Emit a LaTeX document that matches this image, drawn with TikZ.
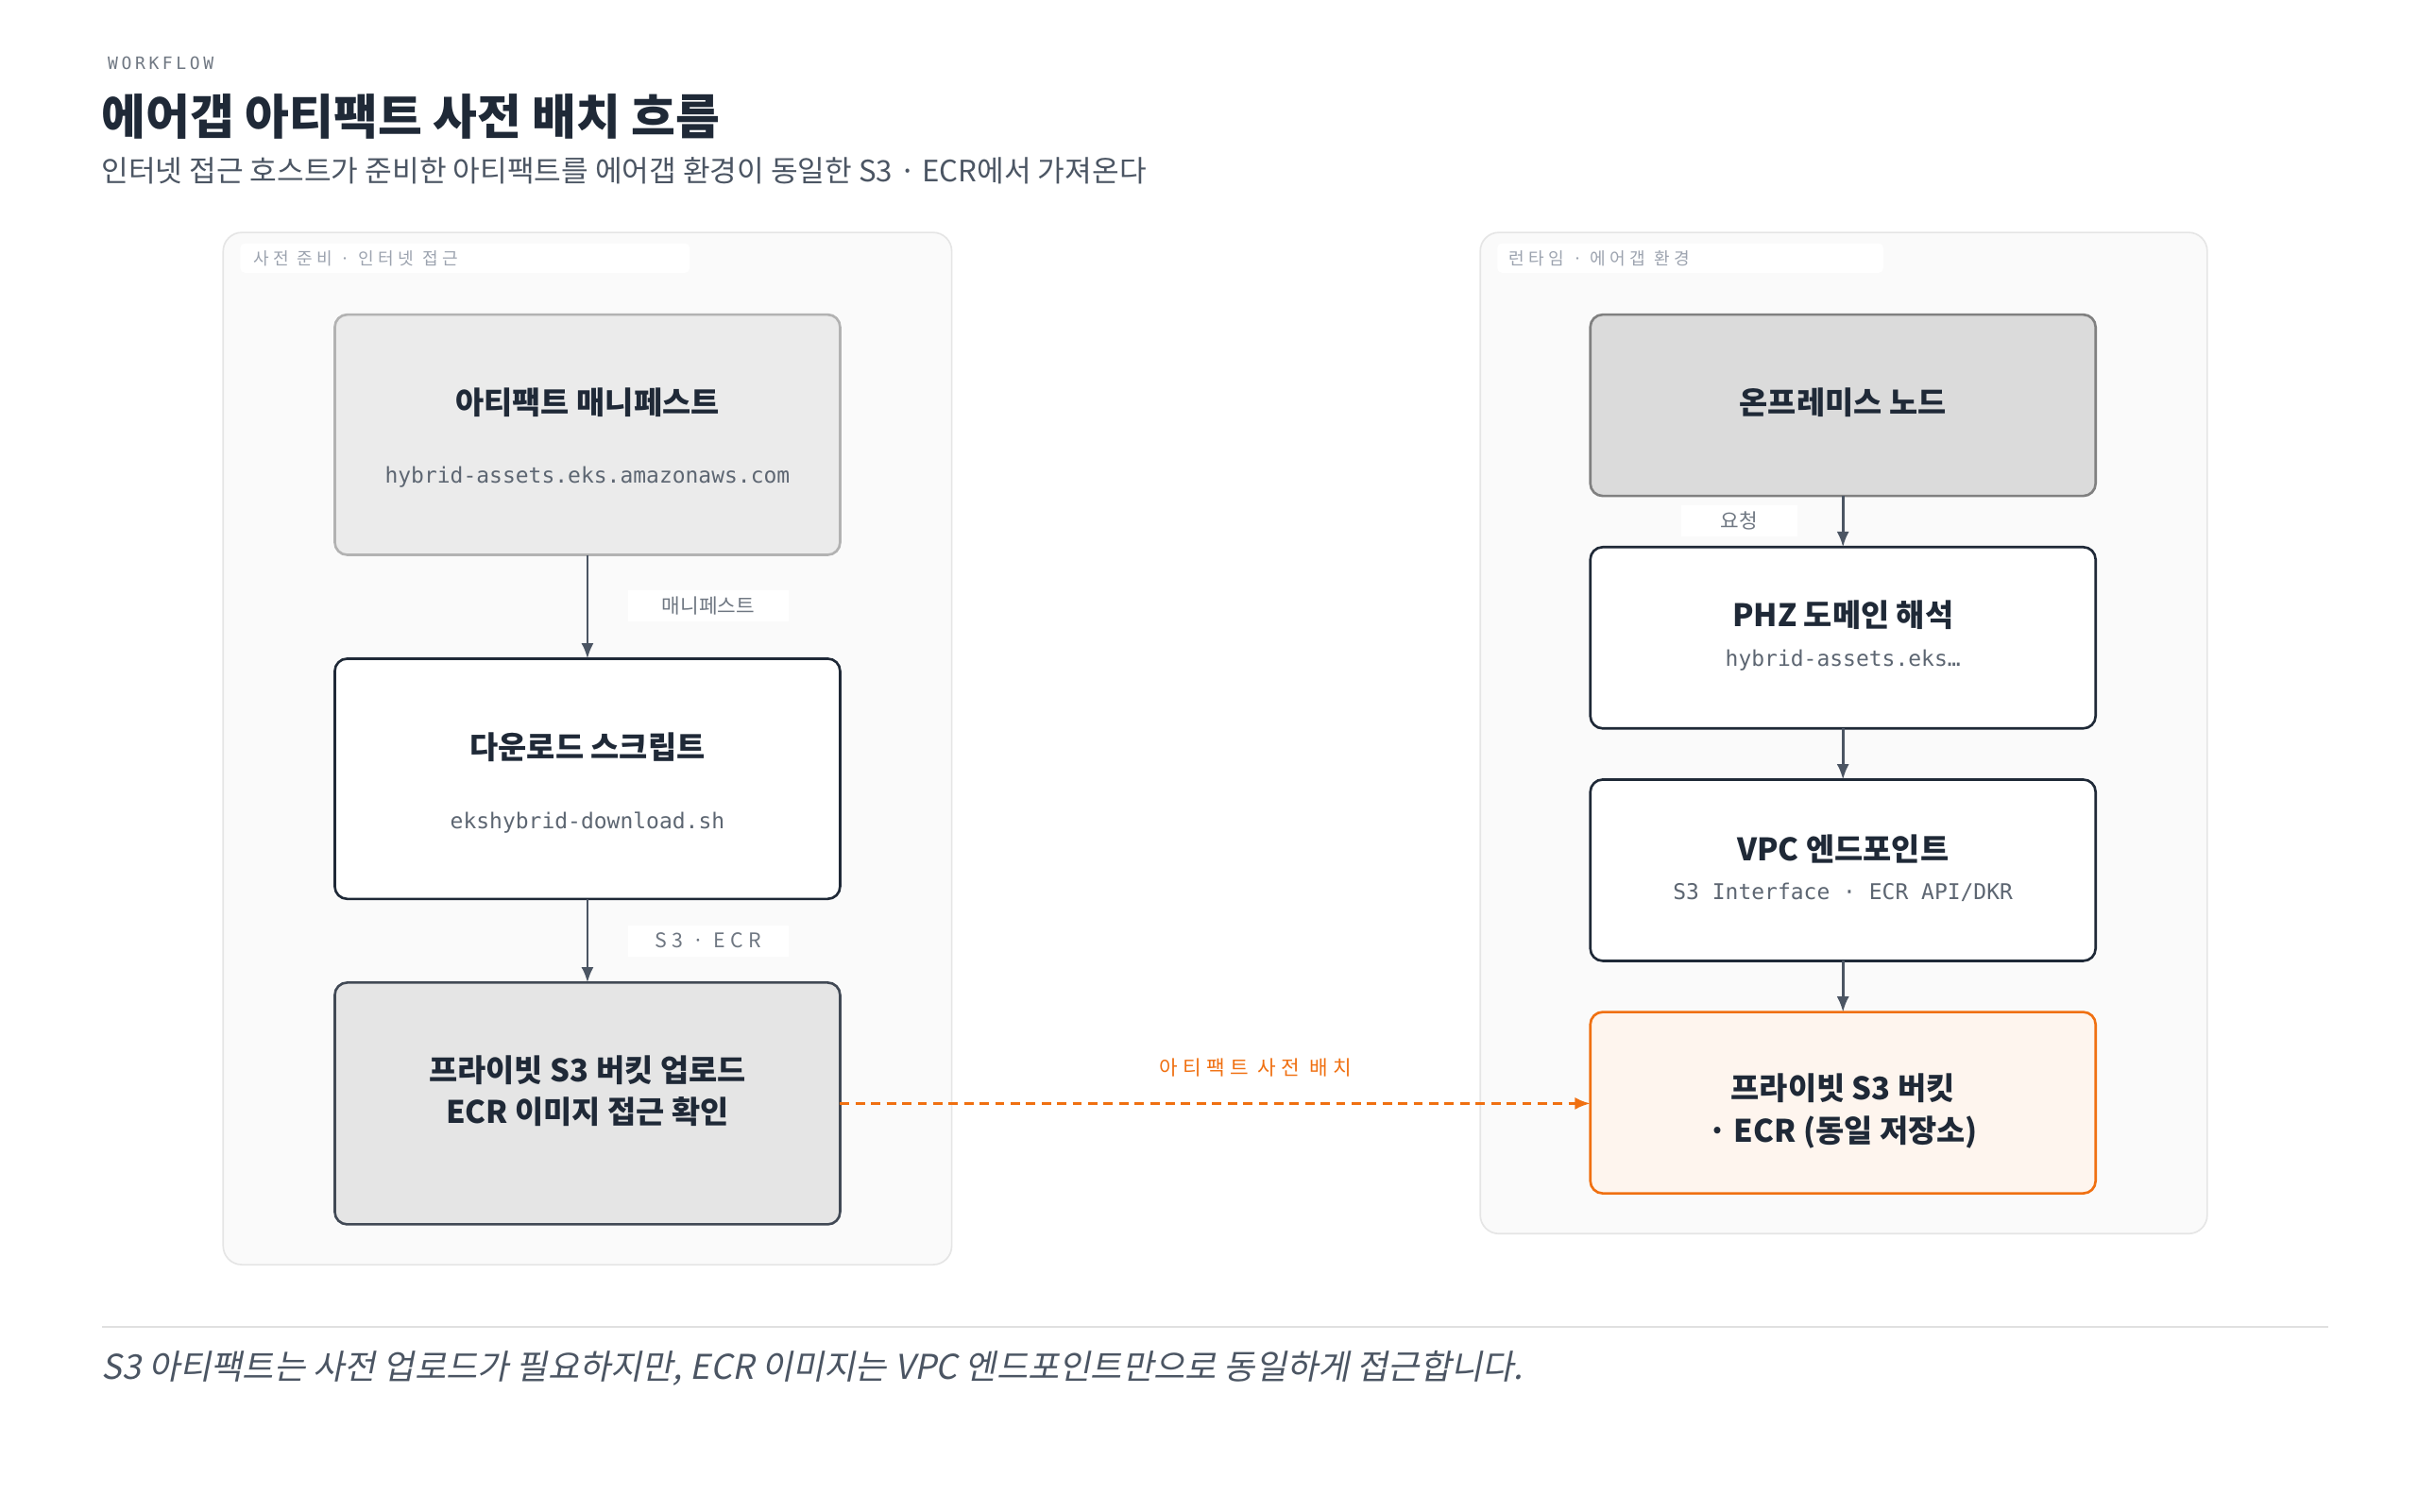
\documentclass[tikz,border=0pt]{standalone}
\usepackage{fontspec}
\setmainfont{Noto Sans CJK KR}
\setmonofont{DejaVu Sans Mono}
\newfontfamily\kmono{Noto Sans CJK KR}[LetterSpace=25]
\newfontfamily\kit{Noto Sans CJK KR}[FakeSlant=0.2]
\newfontfamily\mwide{DejaVu Sans Mono}[LetterSpace=20]
\usetikzlibrary{arrows.meta}
\definecolor{ink}{HTML}{1F2937}
\definecolor{sub}{HTML}{4B5563}
\definecolor{mut}{HTML}{9CA3AF}
\definecolor{orng}{HTML}{F07011}
\begin{document}
\begin{tikzpicture}[x=1pt,y=-1pt,
  panel/.style={draw=black!10,fill=black!2,rounded corners=12pt,line width=1pt},
  tag/.style={fill=white,rounded corners=3pt},
  box/.style={rounded corners=8pt,line width=1.6pt},
  ttl/.style={font=\fontsize{20}{26}\selectfont\bfseries,text=ink,align=center},
  mono/.style={font=\ttfamily\fontsize{14}{17}\selectfont,text=sub!90},
  tagt/.style={font=\kmono\fontsize{11}{13}\selectfont,text=mut,anchor=west},
  lbl/.style={font=\fontsize{13}{15}\selectfont,text=sub!80,fill=white,minimum width=104pt,minimum height=20pt},
  arr/.style={-{Latex[length=10pt,width=8pt]},line width=1.6pt,draw=sub}
]
\useasboundingbox[fill=white] (0,0) rectangle (1560,975);
\node[anchor=west,font=\mwide\fontsize{11}{13}\selectfont,text=sub!80] (wf) at (66,41) {WORKFLOW};
\node[anchor=west,font=\fontsize{31}{36}\selectfont\bfseries,text=ink] (title) at (62,75) {에어갭 아티팩트 사전 배치 흐름};
\node[anchor=west,font=\fontsize{19}{22}\selectfont,text=sub] (subt) at (62,110) {인터넷 접근 호스트가 준비한 아티팩트를 에어갭 환경이 동일한 S3 · ECR에서 가져온다};

\draw[panel] (144,150) rectangle (614,816);
\fill[tag] (155,157) rectangle (445,176);
\node[tagt] (lt) at (160,167) {사전 준비 · 인터넷 접근};
\draw[panel] (955,150) rectangle (1424,796);
\fill[tag] (966,157) rectangle (1215,176);
\node[tagt] (rt) at (970,167) {런타임 · 에어갭 환경};

% left boxes
\draw[box,fill=black!8,draw=black!30] (216,203) rectangle (542,358);
\coordinate (b1) at (379,280);
\node[ttl] (b1t) at (379,260) {아티팩트 매니페스트};
\node[mono] (b1m) at (379,308) {hybrid-assets.eks.amazonaws.com};
\draw[box,fill=white,draw=ink] (216,425) rectangle (542,580);
\node[ttl] (b2t) at (379,482) {다운로드 스크립트};
\node[mono] (b2m) at (379,531) {ekshybrid-download.sh};
\draw[box,fill=black!10,draw=ink!85] (216,634) rectangle (542,790);
\node[ttl,font=\fontsize{20}{27}\selectfont\bfseries] (b3t) at (379,704) {프라이빗 S3 버킷 업로드\\ECR 이미지 접근 확인};
\coordinate (b1s) at (379,358); \coordinate (b2n) at (379,425);
\coordinate (b2s) at (379,580); \coordinate (b3n) at (379,634);
\draw[arr] (b1s) -- (b2n);
\draw[arr] (b2s) -- (b3n);
\node[lbl] (l1) at (457,391) {매니페스트};
\node[lbl,font=\kmono\fontsize{13}{15}\selectfont] (l2) at (457,607) {S3 · ECR};

% right boxes
\draw[box,fill=black!14,draw=black!50] (1026,203) rectangle (1352,320);
\node[ttl] (r1t) at (1189,260) {온프레미스 노드};
\draw[box,fill=white,draw=ink] (1026,353) rectangle (1352,470);
\node[ttl] (r2t) at (1189,397) {PHZ 도메인 해석};
\node[mono] (r2m) at (1189,426) {hybrid-assets.eks…};
\draw[box,fill=white,draw=ink] (1026,503) rectangle (1352,620);
\node[ttl] (r3t) at (1189,548) {VPC 엔드포인트};
\node[mono] (r3m) at (1189,576) {S3 Interface · ECR API/DKR};
\draw[box,fill=orng!7,draw=orng] (1026,653) rectangle (1352,770);
\node[ttl,font=\fontsize{20}{27}\selectfont\bfseries] (r4t) at (1189,717) {프라이빗 S3 버킷\\· ECR (동일 저장소)};
\coordinate (r1s) at (1189,320); \coordinate (r2n) at (1189,353);
\coordinate (r2s) at (1189,470); \coordinate (r3n) at (1189,503);
\coordinate (r3s) at (1189,620); \coordinate (r4n) at (1189,653);
\draw[arr] (r2s) -- (r3n);
\draw[arr] (r3s) -- (r4n);
\node[lbl,minimum width=75pt] (l3) at (1122,336) {요청};
\draw[arr] (r1s) -- (r2n);

% cross arrow
\coordinate (b3e) at (542,712); \coordinate (r4w) at (1026,712);
\draw[-{Latex[length=10pt,width=8pt]},line width=1.6pt,draw=orng,dash pattern=on 6pt off 4pt] (b3e) -- (r4w);
\node[font=\kmono\fontsize{13}{15}\selectfont,text=orng] (l4) at (810,689) {아티팩트 사전 배치};

\draw[black!12,line width=1pt] (66,856) -- (1502,856);
\node[anchor=west,font=\kit\fontsize{22}{26}\selectfont,text=sub] (foot) at (62,883) {S3 아티팩트는 사전 업로드가 필요하지만, ECR 이미지는 VPC 엔드포인트만으로 동일하게 접근합니다.};
\end{tikzpicture}
\end{document}
